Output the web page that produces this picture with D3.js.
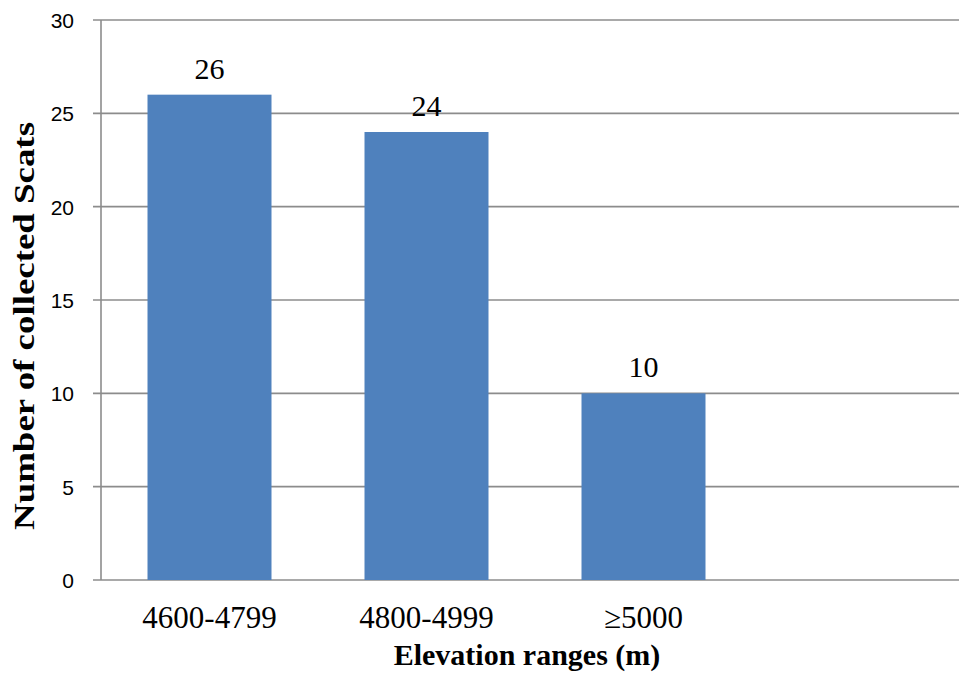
<!DOCTYPE html>
<html>
<head>
<meta charset="utf-8">
<script src="https://cdn.jsdelivr.net/npm/d3@7"></script>
<style>
  html, body { margin: 0; padding: 0; background: #fff; }
  svg { display: block; }
</style>
</head>
<body>
<svg id="chart" width="959" height="685"></svg>
<script>
// ---- data ----
const categories = ["4600-4799", "4800-4999", "\u22655000", ""];
const values = [26, 24, 10, null];
const yTicks = [0, 5, 10, 15, 20, 25, 30];
const xTitle = "Elevation ranges (m)";
const yTitle = "Number of collected Scats";

// ---- layout ----
const svg = d3.select("#chart");
const plotLeft = 101, plotRight = 969, plotTop = 20, plotBottom = 580;

const x = d3.scaleBand()
  .domain(categories)
  .range([plotLeft, plotRight])
  .paddingInner(0.4286)
  .paddingOuter(0.2143);

const y = d3.scaleLinear().domain([0, 30]).range([plotBottom, plotTop]);

// gridlines
svg.append("g")
  .selectAll("line")
  .data(yTicks)
  .join("line")
  .attr("x1", plotLeft - 8)
  .attr("x2", 959)
  .attr("y1", d => y(d))
  .attr("y2", d => y(d))
  .attr("stroke", "#8c8c8c")
  .attr("stroke-width", 1.6);

// y axis line
svg.append("line")
  .attr("x1", plotLeft).attr("x2", plotLeft)
  .attr("y1", plotTop).attr("y2", plotBottom)
  .attr("stroke", "#8c8c8c")
  .attr("stroke-width", 1.6);

// y tick labels
const yAxis = d3.axisLeft(y).tickValues(yTicks).tickSize(0).tickPadding(0);
const gy = svg.append("g").attr("transform", `translate(${plotLeft - 27},0)`).call(yAxis);
gy.select(".domain").remove();
gy.selectAll("text")
  .attr("font-family", "'Liberation Sans', Arial, sans-serif")
  .attr("font-size", 21)
  .attr("fill", "#000")
  .attr("dy", "0.36em");

// bars
const data = categories.map((c, i) => ({ c, v: values[i] })).filter(d => d.v != null);
svg.append("g")
  .selectAll("rect")
  .data(data)
  .join("rect")
  .attr("x", d => x(d.c))
  .attr("width", x.bandwidth())
  .attr("y", d => y(d.v))
  .attr("height", d => y(0) - y(d.v))
  .attr("fill", "#4f81bd");

// value labels
svg.append("g")
  .selectAll("text")
  .data(data)
  .join("text")
  .attr("x", d => x(d.c) + x.bandwidth() / 2)
  .attr("y", d => y(d.v) - 16)
  .attr("text-anchor", "middle")
  .attr("font-family", "'Liberation Serif', 'Times New Roman', serif")
  .attr("font-size", 30)
  .attr("fill", "#000")
  .text(d => d.v);

// x category labels
const xAxis = d3.axisBottom(x).tickSize(0).tickPadding(0);
const gx = svg.append("g").attr("transform", `translate(0,${plotBottom})`).call(xAxis);
gx.select(".domain").remove();
gx.selectAll("text")
  .attr("font-family", "'Liberation Serif', 'Times New Roman', serif")
  .attr("font-size", 31)
  .attr("fill", "#000")
  .attr("dy", null)
  .attr("y", 48);

// x title
svg.append("text")
  .attr("x", 527)
  .attr("y", 665)
  .attr("text-anchor", "middle")
  .attr("font-family", "'Liberation Serif', 'Times New Roman', serif")
  .attr("font-weight", "bold")
  .attr("font-size", 30)
  .attr("fill", "#000")
  .text(xTitle);

// y title
svg.append("text")
  .attr("transform", "translate(34,326) rotate(-90)")
  .attr("text-anchor", "middle")
  .attr("font-family", "'Liberation Serif', 'Times New Roman', serif")
  .attr("font-weight", "bold")
  .attr("font-size", 30)
  .attr("fill", "#000")
  .attr("textLength", 408)
  .attr("lengthAdjust", "spacingAndGlyphs")
  .text(yTitle);
</script>
</body>
</html>
